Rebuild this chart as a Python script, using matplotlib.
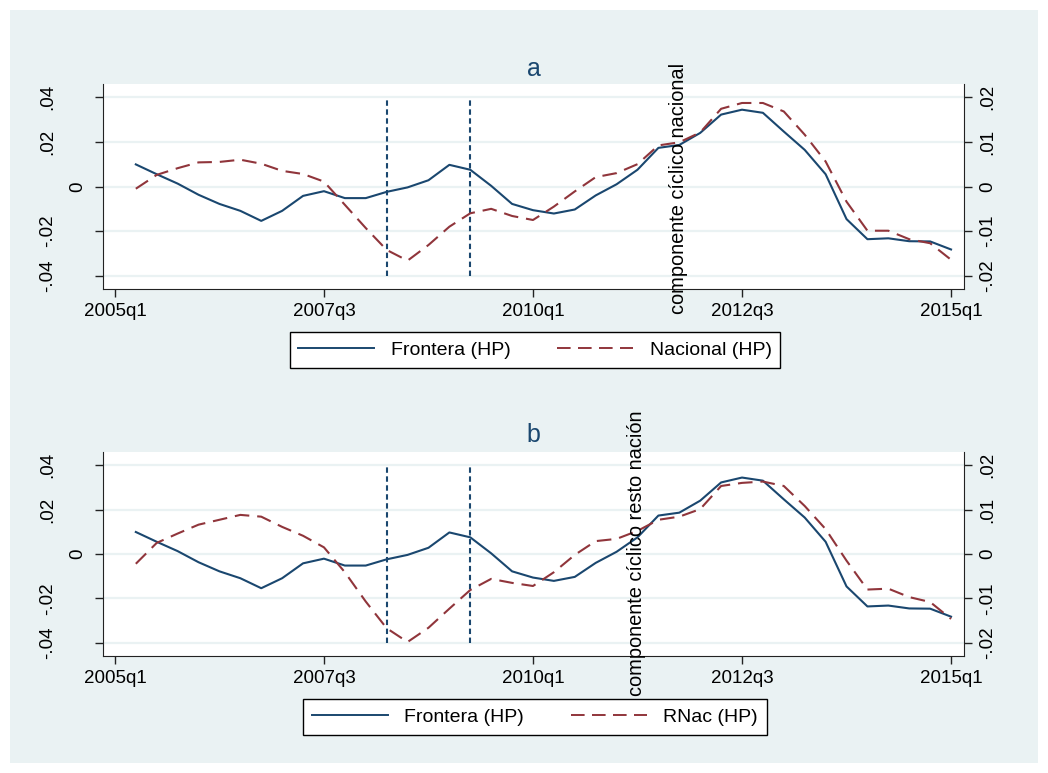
"""Componente cíclico (HP): Frontera vs Nacional / resto de la nación.

Two stacked panels, each with a second y axis on the right, in the
Stata s2color look. Writes out.png.
"""
import matplotlib
matplotlib.use("Agg")
import matplotlib.pyplot as plt
import numpy as np
import pandas as pd
from matplotlib.lines import Line2D
from matplotlib.patches import Rectangle

plt.rcParams["font.family"] = ["Liberation Sans", "DejaVu Sans"]

# quarterly observations, 2005q2 .. 2015q1
periods = pd.period_range("2005Q2", "2015Q1", freq="Q")
tick_periods = ["2005Q1", "2007Q3", "2010Q1", "2012Q3", "2015Q1"]
crisis_periods = ["2008Q2", "2009Q2"]

# left axis
frontera = [0.0099, 0.0055, 0.0013, -0.0037, -0.0078, -0.0109, -0.0154, -0.0109,
            -0.0042, -0.0021, -0.0052, -0.0052, -0.0024, -0.0004, 0.0028, 0.0097,
            0.0075, 0.0003, -0.0078, -0.0106, -0.0121, -0.0103, -0.0040, 0.0010,
            0.0075, 0.0173, 0.0186, 0.0240, 0.0322, 0.0344, 0.0330, 0.0246,
            0.0164, 0.0055, -0.0146, -0.0236, -0.0232, -0.0245, -0.0246, -0.0282]
# right axis, panel a
nacional = [-0.0005, 0.0026, 0.0041, 0.0054, 0.0055, 0.0060, 0.0051, 0.0035,
            0.0028, 0.0011, -0.0041, -0.0093, -0.0142, -0.0166, -0.0131, -0.0090,
            -0.0060, -0.0050, -0.0066, -0.0075, -0.0045, -0.0011, 0.0021, 0.0030,
            0.0050, 0.0092, 0.0099, 0.0121, 0.0174, 0.0187, 0.0187, 0.0168,
            0.0116, 0.0056, -0.0034, -0.0099, -0.0099, -0.0118, -0.0127, -0.0164]
# right axis, panel b
rnac = [-0.0022, 0.0025, 0.0046, 0.0066, 0.0077, 0.0088, 0.0084, 0.0061,
        0.0041, 0.0015, -0.0041, -0.0107, -0.0167, -0.0198, -0.0166, -0.0123,
        -0.0081, -0.0056, -0.0065, -0.0072, -0.0041, -0.0002, 0.0029, 0.0034,
        0.0052, 0.0077, 0.0084, 0.0101, 0.0153, 0.0160, 0.0163, 0.0153,
        0.0108, 0.0056, -0.0015, -0.0080, -0.0078, -0.0097, -0.0108, -0.0146]

left_ticks = [-0.04, -0.02, 0.0, 0.02, 0.04]
left_labels = ["-.04", "-.02", "0", ".02", ".04"]
right_ticks = [-0.02, -0.01, 0.0, 0.01, 0.02]
right_labels = ["-.02", "-.01", "0", ".01", ".02"]

panels = [
    dict(title="a", series2=nacional, name2="Nacional (HP)",
         ytitle="componente cíclico nacional"),
    dict(title="b", series2=rnac, name2="RNac (HP)",
         ytitle="componente cíclico resto nación"),
]

W, H = 1048, 773
BG = "#eaf2f3"
NAVY = "#1a476f"
MAROON = "#90353b"
AXC = "#222222"
FS = 13.5
RED_DASH = (0, (7, 3.8))


def qidx(p):
    p = pd.Period(p, freq="Q")
    return (p.year - 2005) * 4 + p.quarter - 1


def qlabel(p):
    p = pd.Period(p, freq="Q")
    return f"{p.year}q{p.quarter}"


def px_axes(fig, x0, y0, x1, y1):
    return fig.add_axes([x0 / W, 1 - y1 / H, (x1 - x0) / W, (y1 - y0) / H])


def draw_panel(fig, box, spec, title_y, legend_y):
    x0, y0, x1, y1 = box
    ax = px_axes(fig, *box)
    ax2 = ax.twinx()
    x = np.array([qidx(p) for p in periods])

    ax.set_xlim(-0.57, 40.62)
    ax.set_ylim(-0.0459, 0.0459)
    ax2.set_ylim(-0.02295, 0.02295)

    ax.set_yticks(left_ticks, [""] * len(left_ticks))
    ax2.set_yticks(right_ticks, [""] * len(right_ticks))
    ax.grid(axis="y", color=BG, lw=1.6)
    ax.set_axisbelow(True)

    ax.set_xticks([qidx(p) for p in tick_periods],
                  [qlabel(p) for p in tick_periods], fontsize=FS)
    for a in (ax, ax2):
        a.tick_params(length=5.5, width=1, color=AXC, pad=4.5)
        a.spines["top"].set_visible(False)
    ax.spines["right"].set_visible(False)
    ax2.spines["left"].set_visible(False)
    ax2.spines["bottom"].set_visible(False)
    for s in ("left", "bottom"):
        ax.spines[s].set_color(AXC)
    ax2.spines["right"].set_color(AXC)

    # rotated y tick labels, Stata style: longer labels sit further out
    pw = x1 - x0
    for v, lab in zip(left_ticks, left_labels):
        xr = 86 if lab == "0" else 56
        ax.text((xr - x0) / pw, v, lab, transform=ax.get_yaxis_transform(),
                rotation=90, ha="right", va="center", fontsize=FS)
    for v, lab in zip(right_ticks, right_labels):
        ax2.text((979 - x0) / pw, v, lab, transform=ax2.get_yaxis_transform(),
                 rotation=90, ha="left", va="center", fontsize=FS)

    for p in crisis_periods:
        ax.vlines(qidx(p), left_ticks[0], left_ticks[-1], colors=NAVY,
                  lw=1.5, linestyles=(0, (2.6, 1.7)))

    ax.plot(x, frontera, color=NAVY, lw=1.5)
    ax2.plot(x, spec["series2"], color=MAROON, lw=1.5, ls=RED_DASH)

    fig.text((x0 + x1) / 2 / W, 1 - title_y / H, spec["title"], ha="center",
             va="baseline", fontsize=18, color=NAVY)

    handles = [Line2D([], [], color=NAVY, lw=1.4),
               Line2D([], [], color=MAROON, lw=1.4, ls=RED_DASH)]
    leg = fig.legend(handles, ["Frontera (HP)", spec["name2"]], loc="center",
                     bbox_to_anchor=(535 / W, 1 - legend_y / H), ncol=2,
                     fontsize=14, frameon=True, fancybox=False,
                     handlelength=3.9, handletextpad=0.85, columnspacing=2.4,
                     borderpad=0.45)
    frame = leg.get_frame()
    frame.set_edgecolor("black")
    frame.set_facecolor("white")
    frame.set_alpha(1.0)
    frame.set_linewidth(1.0)
    return ax, ax2


def main() -> None:
    fig = plt.figure(figsize=(W / 100, H / 100), dpi=100, facecolor="white")
    fig.add_artist(Rectangle((10 / W, 10 / H), (W - 20) / W, (H - 20) / H,
                             transform=fig.transFigure, facecolor=BG,
                             edgecolor="none", zorder=-10))

    draw_panel(fig, (103, 84, 964, 289), panels[0], title_y=75.5, legend_y=350)
    draw_panel(fig, (103, 452, 964, 656), panels[1], title_y=442, legend_y=717)

    fig.text(678 / W, 1 - 188 / H, panels[0]["ytitle"], rotation=90,
             ha="center", va="center", fontsize=14.4)
    fig.text(636 / W, 1 - 553 / H, panels[1]["ytitle"], rotation=90,
             ha="center", va="center", fontsize=14.4)

    fig.savefig("out.png", dpi=100, facecolor=fig.get_facecolor())
    plt.close(fig)


if __name__ == "__main__":
    main()
